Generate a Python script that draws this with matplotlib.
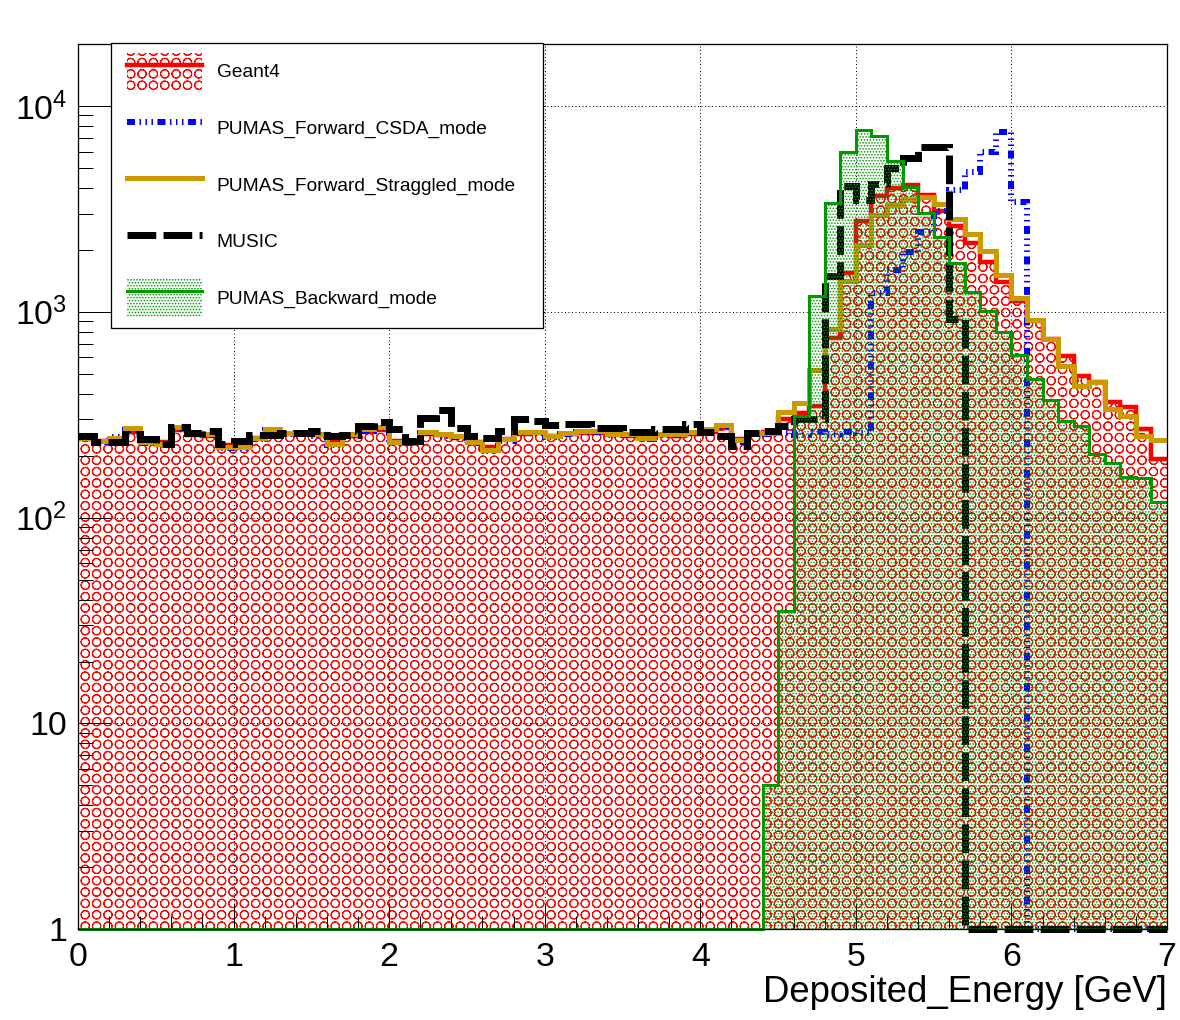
import numpy as np
import matplotlib
matplotlib.use("Agg")
import matplotlib.pyplot as plt
import matplotlib.hatch as mhatch
from matplotlib.path import Path
from matplotlib.lines import Line2D
from matplotlib.patches import Patch, Rectangle
from matplotlib.ticker import (FixedLocator, FixedFormatter, LogLocator,
                               NullFormatter, MultipleLocator)

# Histogram binning (GeV) and y range of the log axis
x_min, x_max, n_bins = 0.0, 7.0, 70
y_min, y_max = 1.0, 2.0e4

# Entries per 0.1 GeV bin
geant4 = [
    240, 236, 241, 262, 236, 232, 266, 252, 250, 226,
    224, 243, 260, 254, 256, 251, 232, 250, 262, 268,
    236, 234, 255, 252, 247, 234, 220, 240, 256, 257,
    248, 254, 259, 258, 252, 250, 243, 251, 250, 256,
    262, 272, 240, 254, 260, 300, 322, 350, 750, 1540,
    2770, 3660, 4000, 4130, 3700, 3100, 2620, 2150, 1750, 1400,
    1130, 900, 740, 610, 490, 454, 363, 343, 269, 192,
]
pumas_csda = [
    243, 232, 247, 266, 230, 229, 270, 256, 252, 219,
    218, 240, 266, 255, 257, 250, 226, 252, 265, 272,
    231, 230, 258, 250, 246, 230, 210, 236, 258, 259,
    246, 255, 260, 262, 251, 252, 241, 251, 252, 258,
    265, 279, 233, 255, 256, 258, 252, 260, 255, 262,
    258, 1230, 1600, 1950, 2450, 3100, 3900, 4800, 6000, 7500,
    3400, 0, 0, 0, 0, 0, 0, 0, 0, 0,
]
pumas_straggled = [
    245, 235, 245, 272, 233, 227, 276, 259, 255, 221,
    220, 245, 269, 259, 259, 255, 229, 255, 269, 276,
    233, 233, 262, 255, 249, 233, 214, 240, 262, 262,
    250, 259, 264, 264, 255, 255, 245, 255, 255, 262,
    269, 283, 238, 259, 258, 325, 360, 522, 825, 1416,
    2110, 2950, 3300, 3530, 3600, 3340, 2825, 2400, 1980, 1514,
    1162, 915, 738, 547, 437, 454, 337, 312, 248, 238,
]
music = [
    250, 234, 234, 255, 240, 227, 277, 259, 264, 227,
    236, 252, 252, 259, 259, 264, 250, 252, 279, 292,
    271, 236, 305, 334, 274, 249, 245, 264, 300, 295,
    281, 286, 286, 272, 272, 262, 262, 269, 269, 284,
    262, 249, 223, 259, 265, 280, 300, 300, 1500, 4100,
    3500, 4200, 5000, 5600, 6300, 6300, 920, 0, 0, 0,
    0, 0, 0, 0, 0, 0, 0, 0, 0, 0,
]
pumas_backward = [
    0, 0, 0, 0, 0, 0, 0, 0, 0, 0,
    0, 0, 0, 0, 0, 0, 0, 0, 0, 0,
    0, 0, 0, 0, 0, 0, 0, 0, 0, 0,
    0, 0, 0, 0, 0, 0, 0, 0, 0, 0,
    0, 0, 0, 0, 5, 35, 312, 1190, 3370, 5950,
    7620, 7150, 5390, 4025, 3020, 2300, 1728, 1250, 1012, 795,
    616, 474, 374, 296, 279, 204, 185, 157, 155, 119,
]

labels = ["Geant4", "PUMAS_Forward_CSDA_mode", "PUMAS_Forward_Straggled_mode",
          "MUSIC", "PUMAS_Backward_mode"]
x_ticks = [0, 1, 2, 3, 4, 5, 6, 7]
x_tick_labels = ["0", "1", "2", "3", "4", "5", "6", "7"]
y_ticks = [1, 10, 100, 1000, 10000]
y_tick_labels = ["1", "10", r"$10^{2}$", r"$10^{3}$", r"$10^{4}$"]
x_title = "Deposited_Energy [GeV]"

# ---------------------------------------------------------------------------
DPI = 125
W, H = 1180, 1020
PT = 72.0 / DPI          # points per pixel

RED = "#ff0000"
BLUE = "#0000ff"
GOLD = "#cc9900"
GREEN = "#009900"

plt.rcParams["font.family"] = ["Liberation Sans", "DejaVu Sans"]
plt.rcParams["mathtext.fontset"] = "custom"
plt.rcParams["mathtext.rm"] = "Liberation Sans"
plt.rcParams["mathtext.default"] = "regular"
plt.rcParams["hatch.linewidth"] = 0.6


class RootCircles(mhatch.HatchPatternBase):
    """Open rings on a square lattice, like ROOT's circle fill style ('O')."""
    per_tile = 11
    radius = 0.37

    def __init__(self, hatch, density):
        self.num_rows = self.per_tile if "O" in hatch else 0
        circle = Path.unit_circle()
        self.ring_vertices = np.concatenate([circle.vertices,
                                             circle.vertices[::-1] * 0.95])
        self.ring_codes = np.concatenate([circle.codes, circle.codes])
        self.num_vertices = self.num_rows ** 2 * len(self.ring_vertices)

    def set_vertices_and_codes(self, vertices, codes):
        n = self.num_rows
        ring = self.ring_vertices * (self.radius / n)
        k = len(ring)
        idx = 0
        for i in range(n):
            for j in range(n):
                vertices[idx:idx + k] = ring + [(i + 0.5) / n, (j + 0.5) / n]
                codes[idx:idx + k] = self.ring_codes
                idx += k


# swap matplotlib's staggered large circles for the square lattice
mhatch._hatch_types = [t for t in mhatch._hatch_types
                       if t is not mhatch.LargeCircles] + [RootCircles]

# line styles (widths in px, dash patterns in units of line width)
lw_red, lw_blue, lw_gold, lw_black, lw_green = 4.5, 6.0, 5.0, 7.0, 3.0
blue_dash = (0, (1.33, 0.75, 0.25, 0.75, 0.25, 0.75, 0.25, 0.75))
black_dash = (0, (4.1, 1.05))
red_hatch = "O"
green_hatch = "......."

edges = np.linspace(x_min, x_max, n_bins + 1)


def clip_log(values):
    # empty bins sit on the bottom of the log axis, as ROOT draws them
    return np.clip(np.asarray(values, dtype=float), y_min, None)


# frame in pixels: left, right, top, bottom
fl, fr, ft, fb = 78, 1167, 44, 929.3
ax_w, ax_h = fr - fl, fb - ft

fig = plt.figure(figsize=(W / DPI, H / DPI), dpi=DPI)
ax = fig.add_axes([fl / W, (H - fb) / H, ax_w / W, ax_h / H])
ax.set_yscale("log")
ax.set_xlim(x_min, x_max)
ax.set_ylim(y_min, y_max)

# filled histograms
ax.stairs(clip_log(geant4), edges, baseline=y_min, fill=True, hatch=red_hatch,
          facecolor="none", edgecolor=RED, linewidth=0, zorder=1)

# outlines
ax.stairs(clip_log(geant4), edges, baseline=None, color=RED,
          linewidth=lw_red * PT, clip_on=False, zorder=2.0)
ax.stairs(clip_log(pumas_csda), edges, baseline=None, color=BLUE,
          linewidth=lw_blue * PT, linestyle=blue_dash, clip_on=False, zorder=2.1)
ax.stairs(clip_log(pumas_straggled), edges, baseline=None, color=GOLD,
          linewidth=lw_gold * PT, clip_on=False, zorder=2.2)
ax.stairs(clip_log(music), edges, baseline=None, color="black",
          linewidth=lw_black * PT, linestyle=black_dash, clip_on=False, zorder=2.3)

ax.stairs(clip_log(pumas_backward), edges, baseline=y_min, fill=True,
          hatch=green_hatch, facecolor="none", edgecolor=GREEN, linewidth=0,
          zorder=2.4)
ax.stairs(clip_log(pumas_backward), edges, baseline=None, color=GREEN,
          linewidth=lw_green * PT, clip_on=False, zorder=2.5)

# axes, ticks, grid
ax.xaxis.set_major_locator(FixedLocator(x_ticks))
ax.xaxis.set_major_formatter(FixedFormatter(x_tick_labels))
ax.xaxis.set_minor_locator(MultipleLocator(0.2))
ax.yaxis.set_major_locator(FixedLocator(y_ticks))
ax.yaxis.set_major_formatter(FixedFormatter(y_tick_labels))
ax.yaxis.set_minor_locator(LogLocator(base=10, subs=np.arange(2, 10)))
ax.yaxis.set_minor_formatter(NullFormatter())

ax.tick_params(axis="both", which="both", direction="in", top=False, right=False,
               width=1.0 * PT, colors="black", labelsize=19.5)
ax.tick_params(axis="x", which="major", length=26 * PT, pad=13 * PT)
ax.tick_params(axis="x", which="minor", length=13 * PT)
ax.tick_params(axis="y", which="major", length=32 * PT, pad=11 * PT)
ax.tick_params(axis="y", which="minor", length=15 * PT)
for sp in ax.spines.values():
    sp.set_linewidth(1.3 * PT)
    sp.set_zorder(4)

ax.set_axisbelow("line")
ax.grid(True, which="major", color="black", linewidth=1.0 * PT,
        linestyle=(0, (1, 2.5)))

ax.set_xlabel(x_title, fontsize=21, loc="right")
ax.xaxis.set_label_coords(1.0, -(975 - fb) / ax_h)

# legend: white box drawn at fixed place, entries anchored inside it
box = Rectangle(((111 - fl) / ax_w, (fb - 328) / ax_h), (543 - 111) / ax_w,
                (328 - 43.3) / ax_h, transform=ax.transAxes, facecolor="white",
                edgecolor="black", linewidth=1.3 * PT, clip_on=False, zorder=4.9)
ax.add_patch(box)

h_geant4 = (Patch(facecolor="none", edgecolor=RED, hatch=red_hatch, linewidth=0),
            Line2D([], [], color=RED, linewidth=lw_red * PT))
h_csda = Line2D([], [], color=BLUE, linewidth=lw_blue * PT, linestyle=blue_dash)
h_strag = Line2D([], [], color=GOLD, linewidth=lw_gold * PT)
h_music = Line2D([], [], color="black", linewidth=lw_black * PT, linestyle=black_dash)
h_back = (Patch(facecolor="none", edgecolor=GREEN, hatch=green_hatch, linewidth=0),
          Line2D([], [], color=GREEN, linewidth=lw_green * PT))

leg = ax.legend([h_geant4, h_csda, h_strag, h_music, h_back], labels,
                loc="upper left",
                bbox_to_anchor=((126.7 - fl) / ax_w, (fb - 52.7) / ax_h),
                borderaxespad=0.0, borderpad=0.0, fontsize=11.05,
                handlelength=3.91, handleheight=2.67, handletextpad=0.78,
                labelspacing=0.97, frameon=False)
leg.set_zorder(5)

fig.savefig("out.png", dpi=DPI)
plt.close(fig)
